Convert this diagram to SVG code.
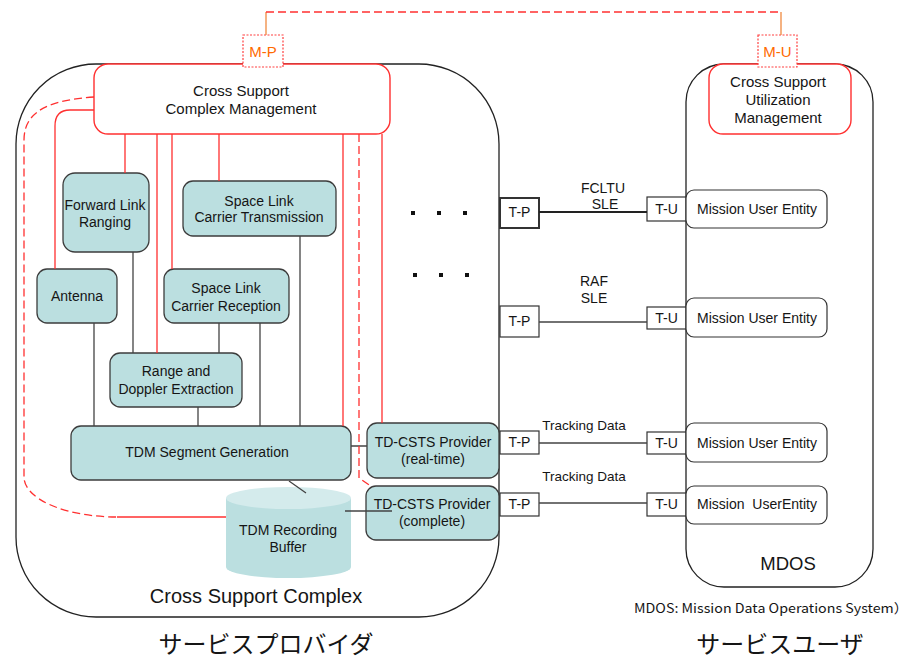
<svg xmlns="http://www.w3.org/2000/svg" width="910" height="659" viewBox="0 0 910 659">
<style>
text{font-family:"Liberation Sans",Arial,"Noto Sans CJK JP",sans-serif;fill:#151515;text-anchor:middle;font-size:14px}
.t15{font-size:15px}
.box{fill:#bbdfe0;stroke:#3c3c3c;stroke-width:1.3}
.mue{fill:#fff;stroke:#333;stroke-width:1.2}
.mgmt{fill:#fff;stroke:#ff3030;stroke-width:1.4}
.cont{fill:#fff;stroke:#222;stroke-width:1.3}
.port{fill:#fff;stroke:#333;stroke-width:1.2}
.ln{stroke:#444;stroke-width:1.3;fill:none}
.red{stroke:#ff3030;stroke-width:1.3;fill:none}
.reddash{stroke:#ff3030;stroke-width:1.3;fill:none;stroke-dasharray:8 4}
.orl{stroke:#f08a40;stroke-width:1.3;fill:none}
.mport{fill:#fff;stroke:#ff4040;stroke-width:1.2;stroke-dasharray:2 1.5}
.orange{fill:#ff6a00;font-size:15px}
.jp{font-family:"Noto Sans CJK JP",sans-serif;font-size:24px}
.dot{fill:#111}
</style>

<g id="cross-support-complex">
<rect class="cont" x="16" y="64" width="483" height="553" rx="80"/>
<text x="256" y="603" style="font-size:20px">Cross Support Complex</text>
</g>
<g id="mdos">
<rect class="cont" x="686" y="64" width="187" height="523" rx="38"/>
<text x="788" y="570" style="font-size:18.5px">MDOS</text>
</g>

<g id="cscm">
<rect class="mgmt" x="94" y="64" width="296" height="70" rx="14"/>
<text class="t15" x="241" y="96">Cross Support</text>
<text class="t15" x="241" y="114">Complex Management</text>
</g>
<g id="csum">
<rect class="mgmt" x="709" y="64" width="142" height="70" rx="14"/>
<text class="t15" x="778" y="87">Cross Support</text>
<text class="t15" x="778" y="105">Utilization</text>
<text class="t15" x="778" y="123">Management</text>
</g>

<g id="forward-link-ranging">
<rect class="box" x="63" y="173" width="86" height="79" rx="12"/>
<text x="105" y="210">Forward Link</text>
<text x="105" y="227">Ranging</text>
</g>
<g id="slct">
<rect class="box" x="183" y="181" width="153" height="55" rx="10"/>
<text x="259" y="206">Space Link</text>
<text x="259" y="222">Carrier Transmission</text>
</g>
<g id="antenna">
<rect class="box" x="37" y="269" width="80" height="54" rx="10"/>
<text x="77" y="301">Antenna</text>
</g>
<g id="slcr">
<rect class="box" x="164" y="269" width="125" height="54" rx="10"/>
<text x="226" y="293">Space Link</text>
<text x="226" y="311">Carrier Reception</text>
</g>
<g id="range-doppler">
<rect class="box" x="110" y="353" width="132" height="54" rx="10"/>
<text x="176" y="376">Range and</text>
<text x="176" y="394">Doppler Extraction</text>
</g>
<g id="tdm-segment-generation">
<rect class="box" x="71" y="426" width="280" height="54" rx="10"/>
<text x="207" y="457">TDM Segment Generation</text>
</g>
<g id="td-csts-realtime">
<rect class="box" x="367" y="423" width="132" height="55" rx="10"/>
<text x="433" y="447">TD-CSTS Provider</text>
<text x="433" y="464">(real-time)</text>
</g>
<g id="td-csts-complete">
<rect class="box" x="366" y="486" width="133" height="54" rx="10"/>
<text x="432" y="509">TD-CSTS Provider</text>
<text x="432" y="526">(complete)</text>
</g>
<g id="tdm-recording-buffer">
<path d="M226,498 V567 A62.5,11 0 0 0 351,567 V498 Z" fill="#bbdfe0"/>
<ellipse cx="288.5" cy="498" rx="62.5" ry="11" fill="#d4ebec"/>
<text x="288" y="535">TDM Recording</text>
<text x="288" y="552">Buffer</text>
</g>

<g id="mp-port">
<rect class="mport" x="243" y="35" width="40" height="32"/>
<text class="orange" x="263" y="57">M-P</text>
</g>
<g id="mu-port">
<rect class="mport" x="758" y="35" width="39" height="32"/>
<text class="orange" x="777.5" y="57">M-U</text>
</g>

<g id="tp1"><rect class="port" x="500" y="198" width="39" height="30" style="stroke-width:2"/><text x="519.5" y="217">T-P</text></g>
<g id="tu1"><rect class="port" x="647" y="197" width="39" height="24"/><text x="666.5" y="214">T-U</text></g>
<g id="tp2"><rect class="port" x="500" y="306" width="39" height="31"/><text x="519.5" y="326">T-P</text></g>
<g id="tu2"><rect class="port" x="647" y="307" width="39" height="22"/><text x="666.5" y="323">T-U</text></g>
<g id="tp3"><rect class="port" x="500" y="431" width="39" height="23"/><text x="519.5" y="447">T-P</text></g>
<g id="tu3"><rect class="port" x="647" y="432" width="39" height="22"/><text x="666.5" y="448">T-U</text></g>
<g id="tp4"><rect class="port" x="500" y="493" width="39" height="23"/><text x="519.5" y="509">T-P</text></g>
<g id="tu4"><rect class="port" x="647" y="493" width="39" height="23"/><text x="666.5" y="509">T-U</text></g>

<g id="mue1"><rect class="mue" x="686" y="190" width="141" height="38" rx="8"/><text x="757" y="214">Mission User Entity</text></g>
<g id="mue2"><rect class="mue" x="686" y="298" width="141" height="39" rx="8"/><text x="757" y="323">Mission User Entity</text></g>
<g id="mue3"><rect class="mue" x="686" y="423" width="141" height="39" rx="8"/><text x="757" y="448">Mission User Entity</text></g>
<g id="mue4"><rect class="mue" x="686" y="486" width="141" height="38" rx="8"/><text x="757" y="509" xml:space="preserve">Mission  UserEntity</text></g>

<g id="connectors">
<path class="ln" d="M133,252 V353 M300,236 V426 M94,323 V426 M219,323 V353 M260,323 V426 M198,407 V426 M351,446 H367 M289,481 L306,493 M345,511 H392"/>
<path class="red" d="M125,134 V173 M157,134 V353 M172,134 V269 M219,134 V181 M343,134 V426 M382,134 V423"/>
<path class="red" d="M94,110 H70 Q55,110 55,126 V269"/>
<path class="reddash" d="M359,134 V478 L372,487"/>
<path class="reddash" d="M94,97 C55,100 24,108 24,140 V477 A93,40 0 0 0 117,517"/>
<path class="red" d="M117,517 H226"/>
<path class="orl" d="M266,35 V12 M781,12 V35"/>
<path class="reddash" d="M266,12 H781"/>
<path class="ln" d="M539,212 H647" style="stroke:#222;stroke-width:1.8"/>
<path class="ln" d="M539,322 H647 M539,443 H647 M539,503 H647"/>
</g>

<g id="labels">
<text x="603" y="193">FCLTU</text>
<text x="605" y="209">SLE</text>
<text x="594" y="286">RAF</text>
<text x="594" y="303">SLE</text>
<text x="584" y="430" style="font-size:13.5px">Tracking Data</text>
<text x="584" y="481" style="font-size:13.5px">Tracking Data</text>
<text x="634" y="613" style="font-family:'Noto Sans CJK JP',sans-serif;font-size:13px;text-anchor:start" textLength="274" lengthAdjust="spacingAndGlyphs">MDOS: Mission Data Operations System）</text>
<text class="jp" x="266" y="653">サービスプロバイダ</text>
<text class="jp" x="780" y="653">サービスユーザ</text>
</g>

<g id="ellipsis">
<rect class="dot" x="411" y="211" width="4" height="4"/>
<rect class="dot" x="437" y="211" width="4" height="4"/>
<rect class="dot" x="463" y="211" width="4" height="4"/>
<rect class="dot" x="413" y="273" width="4" height="4"/>
<rect class="dot" x="439" y="273" width="4" height="4"/>
<rect class="dot" x="465" y="273" width="4" height="4"/>
</g>
</svg>
